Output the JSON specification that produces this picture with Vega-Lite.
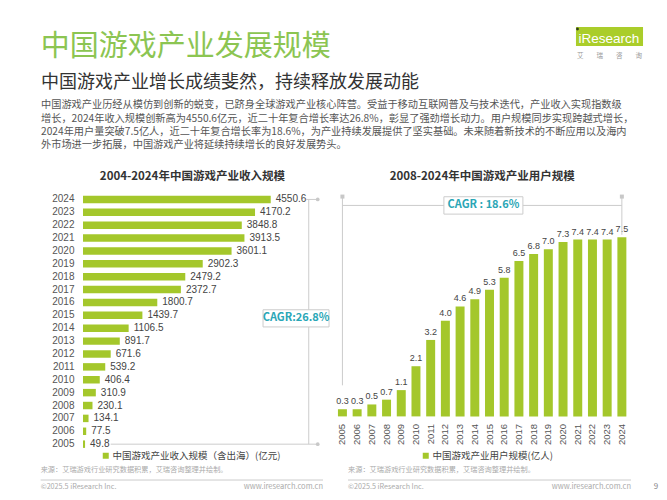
{
  "$schema": "https://vega.github.io/schema/vega-lite/v6.json",
  "background": "white",
  "padding": {"left": 40, "top": 20, "right": 8, "bottom": 4},
  "config": {
    "font": "Noto Sans CJK SC",
    "view": {"stroke": null}
  },
  "datasets": {
    "revenue": [
      {"year": "2024", "value": 4550.6},
      {"year": "2023", "value": 4170.2},
      {"year": "2022", "value": 3848.8},
      {"year": "2021", "value": 3913.5},
      {"year": "2020", "value": 3601.1},
      {"year": "2019", "value": 2902.3},
      {"year": "2018", "value": 2479.2},
      {"year": "2017", "value": 2372.7},
      {"year": "2016", "value": 1800.7},
      {"year": "2015", "value": 1439.7},
      {"year": "2014", "value": 1106.5},
      {"year": "2013", "value": 891.7},
      {"year": "2012", "value": 671.6},
      {"year": "2011", "value": 539.2},
      {"year": "2010", "value": 406.4},
      {"year": "2009", "value": 310.9},
      {"year": "2008", "value": 230.1},
      {"year": "2007", "value": 134.1},
      {"year": "2006", "value": 77.5},
      {"year": "2005", "value": 49.8}
    ],
    "users": [
      {"year": "2005", "value": 0.3},
      {"year": "2006", "value": 0.3},
      {"year": "2007", "value": 0.5},
      {"year": "2008", "value": 0.7},
      {"year": "2009", "value": 1.1},
      {"year": "2010", "value": 2.1},
      {"year": "2011", "value": 3.2},
      {"year": "2012", "value": 4.0},
      {"year": "2013", "value": 4.6},
      {"year": "2014", "value": 4.9},
      {"year": "2015", "value": 5.3},
      {"year": "2016", "value": 5.8},
      {"year": "2017", "value": 6.5},
      {"year": "2018", "value": 6.8},
      {"year": "2019", "value": 7.0},
      {"year": "2020", "value": 7.3},
      {"year": "2021", "value": 7.4},
      {"year": "2022", "value": 7.4},
      {"year": "2023", "value": 7.4},
      {"year": "2024", "value": 7.5}
    ]
  },
  "spacing": 5,
  "vconcat": [
    {
      "width": 565,
      "height": 49,
      "data": {"values": [{}]},
      "encoding": {
        "x": {"datum": 0, "type": "quantitative", "scale": {"domain": [0.0697, 1], "nice": false, "zero": false}, "axis": null},
        "y": {"datum": 0.449, "type": "quantitative", "scale": {"domain": [0, 1], "nice": false}, "axis": null}
      },
      "layer": [
        {"mark": {"type": "text", "text": "中国游戏产业发展规模", "align": "left", "baseline": "middle", "fontSize": 29, "color": "#8cc552"}},
        {
          "mark": {"type": "rect", "color": "#aacd2a", "opacity": 1},
          "encoding": {
            "x": {"datum": 0.8814, "type": "quantitative"},
            "x2": {"datum": 0.9918},
            "y": {"datum": 0.857, "type": "quantitative"},
            "y2": {"datum": 0.469}
          }
        },
        {
          "mark": {"type": "text", "text": "iResearch", "font": "Liberation Sans", "fontSize": 13.5, "fill": "#ffffff", "align": "center", "baseline": "middle"},
          "encoding": {"x": {"datum": 0.9357, "type": "quantitative"}, "y": {"datum": 0.612, "type": "quantitative"}}
        },
        {
          "mark": {"type": "point", "filled": true, "size": 8, "color": "#2f3d1a", "opacity": 1},
          "encoding": {"x": {"datum": 0.8839, "type": "quantitative"}, "y": {"datum": 0.816, "type": "quantitative"}}
        },
        {
          "mark": {"type": "text", "text": "艾　　瑞　　咨　　询", "fontSize": 6.5, "color": "#999999", "align": "center", "baseline": "middle"},
          "encoding": {"x": {"datum": 0.9366, "type": "quantitative"}, "y": {"datum": 0.26, "type": "quantitative"}}
        }
      ]
    },
    {
      "title": {
        "text": "中国游戏产业增长成绩斐然，持续释放发展动能",
        "subtitle": [
          "中国游戏产业历经从模仿到创新的蜕变，已跻身全球游戏产业核心阵营。受益于移动互联网普及与技术迭代，产业收入实现指数级",
          "增长，2024年收入规模创新高为4550.6亿元，近二十年复合增长率达26.8%，彰显了强劲增长动力。用户规模同步实现跨越式增长，",
          "2024年用户量突破7.5亿人，近二十年复合增长率为18.6%，为产业持续发展提供了坚实基础。未来随着新技术的不断应用以及海内",
          "外市场进一步拓展，中国游戏产业将延续持续增长的良好发展势头。"
        ],
        "fontSize": 18,
        "fontWeight": "normal",
        "color": "#333333",
        "subtitleFontSize": 10.2,
        "subtitleFontWeight": "normal",
        "subtitleColor": "#555555",
        "subtitleLineHeight": 13.3,
        "subtitlePadding": 8,
        "anchor": "start",
        "frame": "bounds",
        "offset": 20,
        "dx": -10.7
      },
      "spacing": 2,
      "resolve": {"scale": {"color": "independent"}, "legend": {"color": "independent"}},
      "hconcat": [
        {
          "width": 250,
          "height": 257.6,
          "title": {
            "text": "2004-2024年中国游戏产业收入规模",
            "fontSize": 11.5,
            "fontWeight": "bold",
            "color": "#333333",
            "anchor": "middle",
            "frame": "bounds",
            "offset": 11
          },
          "data": {"name": "revenue"},
          "encoding": {
            "y": {
              "field": "year",
              "type": "ordinal",
              "scale": {
                "domain": ["2024", "2023", "2022", "2021", "2020", "2019", "2018", "2017", "2016", "2015", "2014", "2013", "2012", "2011", "2010", "2009", "2008", "2007", "2006", "2005"],
                "paddingInner": 0.42,
                "paddingOuter": 0.21
              },
              "axis": {"title": null, "ticks": false, "domain": false, "labelFont": "Liberation Sans", "labelFontSize": 10, "labelColor": "#555555", "labelPadding": 9}
            }
          },
          "layer": [
            {
              "mark": {"type": "bar"},
              "encoding": {
                "x": {"field": "value", "type": "quantitative", "scale": {"domain": [0, 6060], "nice": false}, "axis": null},
                "color": {
                  "datum": "中国游戏产业收入规模（含出海）(亿元)",
                  "scale": {"range": ["#a4c72b"]},
                  "legend": {"orient": "none", "legendX": 18, "legendY": 258, "direction": "horizontal", "title": null, "symbolType": "square", "symbolSize": 36, "labelFontSize": 9.5, "labelColor": "#444444", "labelOffset": 2, "labelLimit": 400, "padding": 0}
                }
              }
            },
            {
              "mark": {"type": "text", "align": "left", "baseline": "middle", "dx": 5, "font": "Liberation Sans", "fontSize": 10, "color": "#444444"},
              "encoding": {
                "x": {"field": "value", "type": "quantitative"},
                "text": {"field": "value", "type": "quantitative", "format": ".1f"}
              }
            },
            {
              "data": {"values": [{}]},
              "mark": {"type": "rule", "color": "#cccccc", "strokeWidth": 1},
              "encoding": {"x": {"datum": 5472, "type": "quantitative"}, "y": {"datum": "2024", "type": "ordinal", "bandPosition": 0.5}, "y2": {"datum": "2005", "bandPosition": 0.5}}
            },
            {
              "data": {"values": [{}]},
              "mark": {"type": "rule", "color": "#cccccc", "strokeWidth": 1},
              "encoding": {"x": {"datum": 671, "type": "quantitative"}, "x2": {"datum": 5690}, "y": {"datum": "2005", "type": "ordinal", "bandPosition": 0.5}}
            },
            {
              "data": {"values": [{}]},
              "mark": {"type": "rule", "color": "#cccccc", "strokeWidth": 1},
              "encoding": {"x": {"datum": 5404, "type": "quantitative"}, "x2": {"datum": 5690}, "y": {"datum": "2024", "type": "ordinal", "bandPosition": 0.5}}
            },
            {
              "data": {"values": [{"yr": "2024"}, {"yr": "2005"}]},
              "mark": {"type": "point", "filled": true, "size": 14, "color": "#c8c8c8", "opacity": 1},
              "encoding": {"x": {"datum": 5690, "type": "quantitative"}, "y": {"field": "yr", "type": "ordinal"}}
            },
            {
              "data": {"values": [{}]},
              "mark": {"type": "point", "shape": "M-1,-0.26L1,-0.26L1,0.26L-1,0.26Z", "size": 4356, "filled": false, "fill": "white", "fillOpacity": 1, "stroke": "#cccccc", "strokeWidth": 1, "opacity": 1, "yOffset": 3},
              "encoding": {"x": {"datum": 5164, "type": "quantitative"}, "y": {"datum": "2015", "type": "ordinal"}}
            },
            {
              "data": {"values": [{}]},
              "mark": {"type": "text", "text": "CAGR:26.8%", "dy": 3, "fontSize": 11, "fontWeight": "bold", "color": "#2aa6b6", "align": "center", "baseline": "middle"},
              "encoding": {"x": {"datum": 5164, "type": "quantitative"}, "y": {"datum": "2015", "type": "ordinal"}}
            }
          ]
        },
        {
          "width": 294.3,
          "height": 223.4,
          "title": {
            "text": "2008-2024年中国游戏产业用户规模",
            "fontSize": 11.5,
            "fontWeight": "bold",
            "color": "#333333",
            "anchor": "middle",
            "frame": "group",
            "offset": 11
          },
          "data": {"name": "users"},
          "encoding": {
            "x": {
              "field": "year",
              "type": "ordinal",
              "scale": {"paddingInner": 0.39, "paddingOuter": 0.2},
              "axis": {"title": null, "labelAngle": -90, "ticks": false, "domain": false, "labelFont": "Liberation Sans", "labelFontSize": 9.5, "labelColor": "#555555", "labelPadding": 7}
            }
          },
          "layer": [
            {
              "mark": {"type": "bar"},
              "encoding": {
                "y": {"field": "value", "type": "quantitative", "scale": {"domain": [0, 9.35], "nice": false}, "axis": null},
                "color": {
                  "datum": "中国游戏产业用户规模(亿人)",
                  "scale": {"range": ["#a4c72b"]},
                  "legend": {"orient": "none", "legendX": 86, "legendY": 258, "direction": "horizontal", "title": null, "symbolType": "square", "symbolSize": 36, "labelFontSize": 9.5, "labelColor": "#444444", "labelOffset": 2, "labelLimit": 400, "padding": 0}
                }
              }
            },
            {
              "mark": {"type": "text", "baseline": "bottom", "dy": -3, "font": "Liberation Sans", "fontSize": 9, "color": "#444444"},
              "encoding": {
                "y": {"field": "value", "type": "quantitative"},
                "text": {"field": "value", "type": "quantitative", "format": ".1f"}
              }
            },
            {
              "data": {"values": [{}]},
              "mark": {"type": "rule", "color": "#cccccc", "strokeWidth": 1},
              "encoding": {"x": {"datum": "2005", "type": "ordinal", "bandPosition": 0.5}, "x2": {"datum": "2024", "bandPosition": 0.5}, "y": {"datum": 8.83, "type": "quantitative"}}
            },
            {
              "data": {"values": [{}]},
              "mark": {"type": "rule", "color": "#cccccc", "strokeWidth": 1},
              "encoding": {"x": {"datum": "2005", "type": "ordinal", "bandPosition": 0.5}, "y": {"datum": 9.25, "type": "quantitative"}, "y2": {"datum": 1.3}}
            },
            {
              "data": {"values": [{}]},
              "mark": {"type": "rule", "color": "#cccccc", "strokeWidth": 1},
              "encoding": {"x": {"datum": "2024", "type": "ordinal", "bandPosition": 0.5}, "y": {"datum": 9.25, "type": "quantitative"}, "y2": {"datum": 7.6}}
            },
            {
              "data": {"values": [{"yr": "2005"}, {"yr": "2024"}]},
              "mark": {"type": "point", "shape": "square", "filled": true, "size": 16, "color": "#c8c8c8", "opacity": 1},
              "encoding": {"x": {"field": "yr", "type": "ordinal"}, "y": {"datum": 9.2, "type": "quantitative"}}
            },
            {
              "data": {"values": [{}]},
              "mark": {"type": "point", "shape": "M-1,-0.22L1,-0.22L1,0.22L-1,0.22Z", "size": 6241, "filled": false, "fill": "white", "fillOpacity": 1, "stroke": "#cccccc", "strokeWidth": 1, "opacity": 1, "xOffset": 8.6},
              "encoding": {"x": {"datum": "2014", "type": "ordinal"}, "y": {"datum": 8.83, "type": "quantitative"}}
            },
            {
              "data": {"values": [{}]},
              "mark": {"type": "text", "text": "CAGR : 18.6%", "dx": 8.6, "fontSize": 11, "fontWeight": "bold", "color": "#2aa6b6", "align": "center", "baseline": "middle"},
              "encoding": {"x": {"datum": "2014", "type": "ordinal"}, "y": {"datum": 8.83, "type": "quantitative"}}
            }
          ]
        }
      ]
    },
    {
      "spacing": 23,
      "hconcat": [
        {
          "width": 240,
          "height": 17,
          "data": {"values": [{}]},
          "encoding": {
            "x": {"datum": 0, "type": "quantitative", "scale": {"domain": [0.15, 1], "nice": false, "zero": false}, "axis": null},
            "y": {"datum": 1, "type": "quantitative", "scale": {"domain": [0, 1], "nice": false}, "axis": null}
          },
          "layer": [
            {"mark": {"type": "text", "text": "来源：艾瑞游戏行业研究数据积累，艾瑞咨询整理并绘制。", "align": "left", "baseline": "middle", "fontSize": 7.2, "color": "#aaaaaa"}},
            {"mark": {"type": "rule", "color": "#cccccc", "strokeWidth": 1}, "encoding": {"x2": {"datum": 1}, "y": {"datum": 0.41, "type": "quantitative"}}},
            {"mark": {"type": "text", "text": "©2025.5 iResearch Inc.", "align": "left", "baseline": "middle", "fontSize": 7.2, "color": "#aaaaaa"}, "encoding": {"y": {"datum": 0, "type": "quantitative"}}},
            {"mark": {"type": "text", "text": "www.iresearch.com.cn", "align": "right", "baseline": "middle", "fontSize": 7.5, "color": "#aaaaaa"}, "encoding": {"x": {"datum": 1, "type": "quantitative"}, "y": {"datum": 0, "type": "quantitative"}}}
          ]
        },
        {
          "width": 283,
          "height": 17,
          "data": {"values": [{}]},
          "encoding": {
            "x": {"datum": 0, "type": "quantitative", "scale": {"domain": [0, 1], "nice": false}, "axis": null},
            "y": {"datum": 1, "type": "quantitative", "scale": {"domain": [0, 1], "nice": false}, "axis": null}
          },
          "layer": [
            {"mark": {"type": "text", "text": "来源：艾瑞游戏行业研究数据积累，艾瑞咨询整理并绘制。", "align": "left", "baseline": "middle", "fontSize": 7.2, "color": "#aaaaaa"}},
            {"mark": {"type": "rule", "color": "#cccccc", "strokeWidth": 1}, "encoding": {"x2": {"datum": 1}, "y": {"datum": 0.41, "type": "quantitative"}}},
            {"mark": {"type": "text", "text": "©2025.5 iResearch Inc.", "align": "left", "baseline": "middle", "fontSize": 7.2, "color": "#aaaaaa"}, "encoding": {"y": {"datum": 0, "type": "quantitative"}}},
            {"mark": {"type": "text", "text": "www.iresearch.com.cn", "align": "right", "baseline": "middle", "fontSize": 7.5, "color": "#aaaaaa"}, "encoding": {"x": {"datum": 1, "type": "quantitative"}, "y": {"datum": 0, "type": "quantitative"}}},
            {"mark": {"type": "text", "text": "9", "align": "center", "baseline": "middle", "fontSize": 8, "color": "#888888"}, "encoding": {"x": {"datum": 1.088, "type": "quantitative"}, "y": {"datum": 0, "type": "quantitative"}}}
          ]
        }
      ]
    }
  ]
}
